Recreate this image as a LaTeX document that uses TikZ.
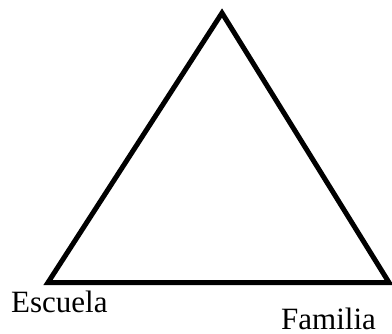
\documentclass[tikz,border=0pt]{standalone}
\usepackage{fontspec}
\setmainfont{Liberation Serif}
\begin{document}
\begin{tikzpicture}[x=1pt,y=1pt,
  edge/.style={line width=5pt,line join=miter},
  lbl/.style={anchor=base west,inner sep=0pt,font=\fontsize{31}{31}\selectfont}]
\useasboundingbox (0,0) rectangle (392,333);
\coordinate (apex) at (222,320);
\coordinate (left) at (48,50.5);
\coordinate (right) at (389,50.5);
\draw[edge] (apex) -- (left) -- (right) -- cycle;
\node[lbl] (escuela) at (11,21) {Escuela};
\node[lbl] (familia) at (281,3.5) {Familia};
\end{tikzpicture}
\end{document}
